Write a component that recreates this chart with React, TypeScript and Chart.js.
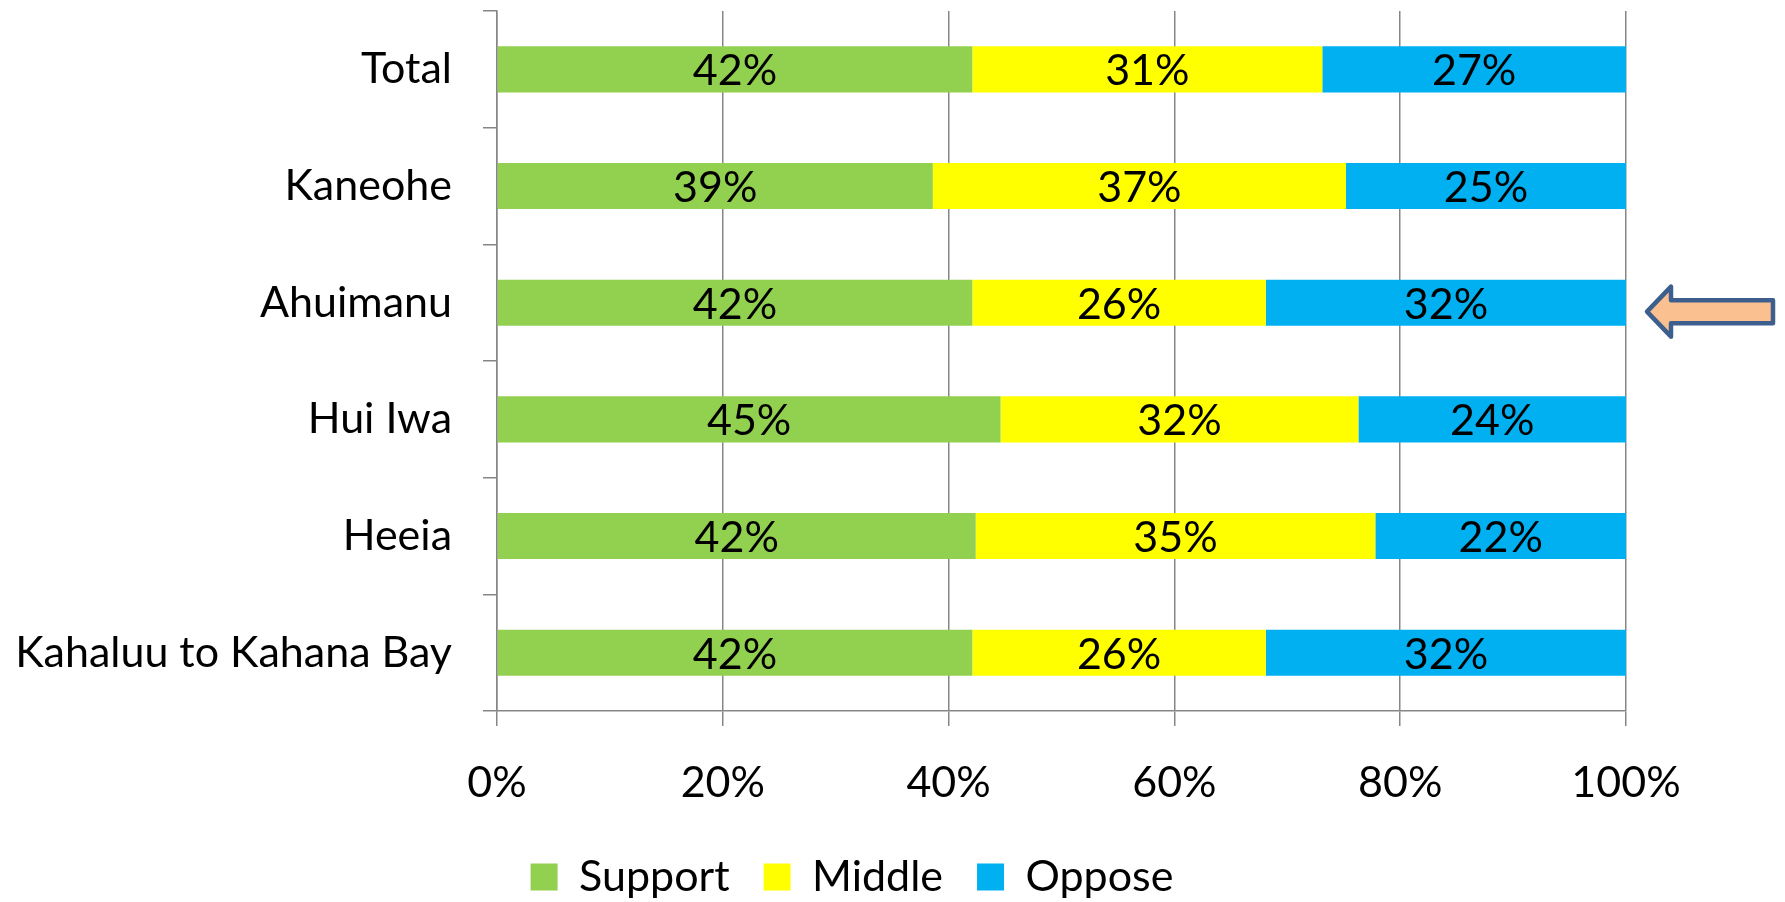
import { useEffect, useRef } from 'react';
import { Chart, registerables } from 'chart.js';

Chart.register(...registerables);

const categories = ['Total', 'Kaneohe', 'Ahuimanu', 'Hui Iwa', 'Heeia', 'Kahaluu to Kahana Bay'];
const support = [42.1, 38.6, 42.1, 44.6, 42.4, 42.1];
const middle = [31.0, 36.6, 26.0, 31.7, 35.4, 26.0];
const oppose = [26.9, 24.8, 31.9, 23.7, 22.2, 31.9];
const seriesNames = ['Support', 'Middle', 'Oppose'];
const seriesColors = ['#92D050', '#FFFF00', '#00B0F0'];
const xTickValues = [0, 20, 40, 60, 80, 100];
const highlighted = 'Ahuimanu';

const FONT = 'Lato, "Open Sans", sans-serif';
const FS = 43;
const AXIS = '#868686';

const valueLabelPlugin = {
  id: 'valueLabels',
  afterDatasetsDraw(chart: any) {
    const ctx = chart.ctx;
    ctx.save();
    ctx.font = `${FS}px ${FONT}`;
    ctx.fillStyle = '#000';
    ctx.textAlign = 'center';
    ctx.textBaseline = 'middle';
    chart.data.datasets.forEach((ds: any, di: number) => {
      const meta = chart.getDatasetMeta(di);
      meta.data.forEach((el: any, i: number) => {
        const p = el.getProps(['x', 'y', 'base'], true);
        const v = ds.data[i];
        ctx.fillText(`${Math.round(v)}%`, (p.x + p.base) / 2, p.y + 2);
      });
    });
    ctx.restore();
  },
};

const arrowPlugin = {
  id: 'highlightArrow',
  afterDraw(chart: any) {
    const yScale = chart.scales.y;
    const idx = categories.indexOf(highlighted);
    if (idx < 0) return;
    const cy = yScale.getPixelForValue(idx) + 9;
    const r = chart.chartArea.right;
    const ctx = chart.ctx;
    const tip = r + 21;
    const headBack = r + 45;
    const tail = r + 147;
    const headH = 25;
    const shaftH = 11.5;
    ctx.save();
    ctx.beginPath();
    ctx.moveTo(tip, cy);
    ctx.lineTo(headBack, cy - headH);
    ctx.lineTo(headBack, cy - shaftH);
    ctx.lineTo(tail, cy - shaftH);
    ctx.lineTo(tail, cy + shaftH);
    ctx.lineTo(headBack, cy + shaftH);
    ctx.lineTo(headBack, cy + headH);
    ctx.closePath();
    ctx.fillStyle = '#FAC090';
    ctx.fill();
    ctx.lineJoin = 'round';
    ctx.lineWidth = 4.5;
    ctx.strokeStyle = '#3C5F8D';
    ctx.stroke();
    ctx.restore();
  },
};

const legendShiftPlugin = {
  id: 'legendShift',
  afterLayout(chart: any) {
    const l = chart.legend;
    if (!l) return;
    l.left += 39;
    l.right += 39;
    l.top += 6.5;
    l.bottom += 6.5;
  },
};

export default function App() {
  const ref = useRef<HTMLCanvasElement | null>(null);

  useEffect(() => {
    if (!ref.current) return;
    const values = [support, middle, oppose];
    const chart = new Chart(ref.current, {
      type: 'bar',
      data: {
        labels: categories,
        datasets: seriesNames.map((name, i) => ({
          label: name,
          data: values[i],
          backgroundColor: seriesColors[i],
          borderWidth: 0,
          categoryPercentage: 1,
          barPercentage: 0.395,
        })),
      },
      options: {
        indexAxis: 'y',
        animation: false,
        responsive: true,
        maintainAspectRatio: false,
        layout: { padding: { top: 11, right: 159, bottom: 0, left: 0 } },
        scales: {
          x: {
            stacked: true,
            min: 0,
            max: 100,
            afterFit: (s: any) => { s.height = 104; s.paddingLeft = 0; s.paddingRight = 0; },
            afterBuildTicks: (s: any) => { s.ticks = xTickValues.map((v) => ({ value: v })); },
            ticks: {
              callback: (v: any) => `${v}%`,
              color: '#000',
              font: { family: FONT, size: FS },
              padding: 31,
              maxRotation: 0,
            },
            grid: { color: AXIS, lineWidth: 1.5, tickLength: 15, drawTicks: true },
            border: { display: true, color: AXIS, width: 1.5 },
          },
          y: {
            stacked: true,
            afterFit: (s: any) => { s.width = 497; s.paddingTop = 0; s.paddingBottom = 0; },
            ticks: {
              color: '#000',
              font: { family: FONT, size: FS },
              padding: 31,
            },
            grid: { display: true, drawOnChartArea: false, drawTicks: true, tickLength: 14, offset: true, color: AXIS, lineWidth: 1.5 },
            border: { display: true, color: AXIS, width: 1.5 },
          },
        },
        plugins: {
          legend: {
            position: 'bottom',
            labels: {
              color: '#000',
              font: { family: FONT, size: FS },
              boxWidth: 27,
              boxHeight: 27,
              padding: 34,
            },
          },
          tooltip: { enabled: false },
        },
      },
      plugins: [valueLabelPlugin, arrowPlugin, legendShiftPlugin],
    } as any);
    return () => chart.destroy();
  }, []);

  return (
    <div style={{ position: 'fixed', left: 0, top: 0, width: 1785, height: 902, background: '#fff' }}>
      <canvas ref={ref} />
    </div>
  );
}
